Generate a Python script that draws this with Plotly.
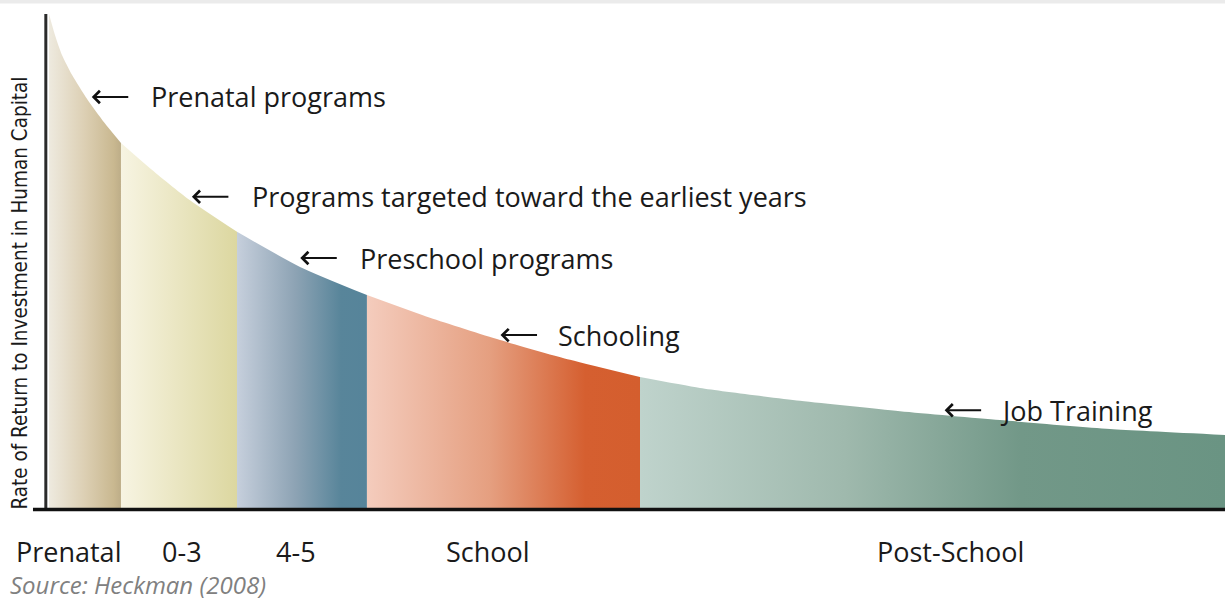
import plotly.graph_objects as go

# ---- data (arbitrary units: life stage 0-100, return 0-100) ----
stages = ["Prenatal", "0-3", "4-5", "School", "Post-School"]
stage_bounds = [0.17, 6.28, 16.13, 27.16, 50.34, 100]
curve_x = [0.17, 0.68, 1.27, 2.12, 3.40, 4.84, 6.28, 8.74, 12.14, 16.13, 21.48, 27.16,
           32.51, 38.46, 44.40, 50.34, 55.43, 63.92, 72.41, 80.90, 90.24, 100]
curve_y = [100, 95.7, 91.7, 87.7, 82.8, 78.1, 73.9, 68.8, 62.3, 55.9, 48.8, 43.1,
           38.5, 34.0, 30.0, 26.5, 24.3, 21.7, 19.6, 17.8, 16.0, 14.8]
programs = ["Prenatal programs", "Programs targeted toward the earliest years",
            "Preschool programs", "Schooling", "Job Training"]
source = "Source: Heckman (2008)"
y_title = "Rate of Return to Investment in Human Capital"

# ---- styles / placement ----
stage_colors = [
    [[0, "#eeeadf"], [0.5, "#dccfb3"], [0.9, "#c9b890"], [1, "#bdad88"]],
    [[0, "#f7f4e2"], [1, "#dcd7a0"]],
    [[0, "#c6cfdc"], [0.45, "#8da3b4"], [0.8, "#58859a"], [1, "#56849a"]],
    [[0, "#f4ccbd"], [0.45, "#e59f80"], [0.8, "#d55f30"], [1, "#d45e2e"]],
    [[0, "#bfd3cc"], [0.35, "#9fb9ad"], [0.65, "#729888"], [1, "#6a9483"]],
]
label_x = [1.8, 11.5, 21.1, 37.4, 76.7]
arrow_tip = [(3.8, 83.2), (12.3, 63.0), (21.5, 50.6), (38.5, 35.0), (76.2, 19.8)]
text_x = [8.7, 17.2, 26.4, 43.2, 80.7]

FONT = "Open Sans, Lato, sans-serif"

fig = go.Figure()
for i, name in enumerate(stages):
    b0, b1 = stage_bounds[i], stage_bounds[i + 1]
    xs = [x for x in curve_x if b0 <= x <= b1]
    ys = [y for x, y in zip(curve_x, curve_y) if b0 <= x <= b1]
    fig.add_trace(go.Scatter(
        x=xs, y=ys, mode="lines", name=name,
        line=dict(width=0, shape="spline", smoothing=0.6),
        fill="tozeroy",
        fillgradient=dict(type="horizontal", colorscale=stage_colors[i]),
        hoverinfo="skip", showlegend=False,
    ))

ann = []
for (tx, ty), lx, txt in zip(arrow_tip, text_x, programs):
    ann.append(dict(x=tx, y=ty, xref="x", yref="y", text="", showarrow=True,
                    ax=38, ay=0, arrowhead=4, arrowsize=1.2, arrowwidth=2,
                    arrowcolor="#111111"))
    ann.append(dict(x=lx, y=ty, xref="x", yref="y", text=txt, showarrow=False,
                    xanchor="left", yanchor="middle",
                    font=dict(family=FONT, size=27, color="#1a1a1a")))
for lx, s in zip(label_x, stages):
    ann.append(dict(x=lx, y=-0.089, xref="x", yref="paper", text=s, showarrow=False,
                    xanchor="center", yanchor="middle",
                    font=dict(family=FONT, size=27, color="#1a1a1a")))
ann.append(dict(x=-0.032, y=-0.154, xref="paper", yref="paper", text=source,
                showarrow=False, xanchor="left", yanchor="middle", borderpad=0,
                font=dict(family=FONT, size=24, color="#808080", style="italic")))
ann.append(dict(x=-0.0225, y=0.435, xref="paper", yref="paper", text=y_title,
                showarrow=False, textangle=-90, xanchor="center", yanchor="middle",
                font=dict(family="Liberation Sans Narrow, DejaVu Sans Condensed, Arial Narrow, sans-serif",
                          size=20.5, color="#1a1a1a")))

shapes = [
    # top grey band
    dict(type="rect", xref="paper", yref="paper", x0=-0.05, x1=1.01,
         y0=1 + 10.5 / 494, y1=1.05, fillcolor="#ebebeb", line=dict(width=0),
         layer="below"),
    # left axis
    dict(type="line", xref="paper", yref="paper", x0=-0.001, x1=-0.001,
         y0=-0.004, y1=1.0, line=dict(color="#2b2b2b", width=3)),
    # bottom axis
    dict(type="line", xref="paper", yref="paper", x0=-0.0119, x1=1.0,
         y0=-0.003, y1=-0.003, line=dict(color="#111111", width=3.5)),
]

fig.update_layout(
    width=1225, height=603,
    margin=dict(l=47, r=0, t=14, b=95),
    paper_bgcolor="white", plot_bgcolor="white",
    xaxis=dict(range=[0, 100], visible=False, fixedrange=True),
    yaxis=dict(range=[0, 100], visible=False, fixedrange=True),
    annotations=ann, shapes=shapes,
)
fig.write_html("out.html", config={"displayModeBar": False},
               post_script="document.body.style.margin='0px';document.body.style.overflow='hidden';")
